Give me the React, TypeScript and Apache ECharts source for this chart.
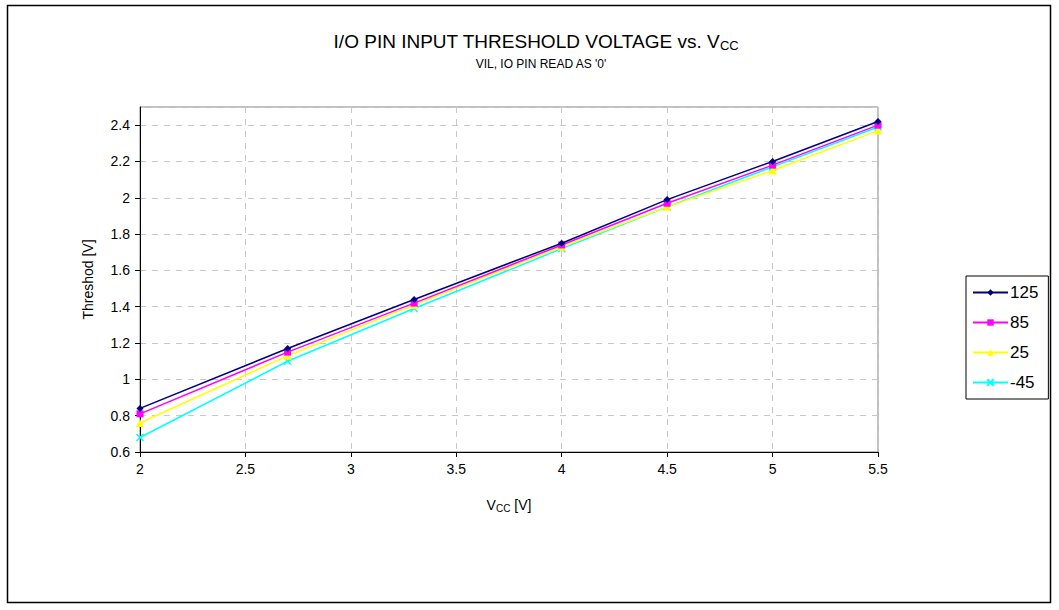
import React, { useEffect, useRef } from "react";
import * as echarts from "echarts";

const vcc = [2, 2.7, 3.3, 4, 4.5, 5, 5.5];
const t125 = [0.84, 1.17, 1.44, 1.75, 1.99, 2.2, 2.42];
const t85 = [0.81, 1.15, 1.42, 1.74, 1.97, 2.18, 2.4];
const t25 = [0.76, 1.13, 1.41, 1.73, 1.95, 2.15, 2.37];
const tm45 = [0.68, 1.1, 1.39, 1.72, 1.95, 2.17, 2.39];
const seriesNames = ["125", "85", "25", "-45"];
const seriesColors = ["#000080", "#FF00FF", "#FFFF00", "#00FFFF"];
const seriesSymbols = ["diamond", "rect", "triangle", "path://M0,0L10,10M10,0L0,10"];

const FONT = "Liberation Sans, Arial, sans-serif";

export default function App() {
  const ref = useRef<HTMLDivElement>(null);
  useEffect(() => {
    if (!ref.current) return;
    const chart = echarts.init(ref.current, null, { renderer: "svg" });
    const all = [t125, t85, t25, tm45];
    const series = all.map((vals, i) => ({
      name: seriesNames[i],
      type: "line",
      data: vals.map((v, j) => [vcc[j], v]),
      symbol: seriesSymbols[i],
      symbolSize: i === 3 ? 7 : i === 2 ? 8 : 7,
      showSymbol: true,
      lineStyle: { color: seriesColors[i], width: 1.5 },
      itemStyle: { color: seriesColors[i], borderColor: seriesColors[i], borderWidth: i === 3 ? 1.5 : 0 },
      z: 10 - i,
    }));
    chart.setOption({
      animation: false,
      backgroundColor: "#fff",
      textStyle: { fontFamily: FONT, color: "#000" },
      title: [
        {
          text: "{a|I/O PIN INPUT THRESHOLD VOLTAGE vs. V}{s|CC}",
          left: 531,
          textAlign: "center",
          top: 25,
          textStyle: {
            fontWeight: "normal",
            rich: {
              a: { fontFamily: FONT, fontSize: 19, fontWeight: "normal", color: "#000", lineHeight: 22 },
              s: { fontFamily: FONT, fontSize: 13, fontWeight: "normal", color: "#000", lineHeight: 12, verticalAlign: "bottom" },
            },
          },
        },
        {
          text: "VIL, IO PIN READ AS '0'",
          left: 536,
          textAlign: "center",
          top: 53,
          textStyle: { fontFamily: FONT, fontSize: 12, color: "#000", fontWeight: "normal" },
        },
      ],
      legend: {
        orient: "vertical",
        left: 966,
        top: 276,
        width: 80,
        padding: [8, 10, 8, 6],
        itemWidth: 35,
        itemHeight: 8,
        itemGap: 13,
        borderColor: "#000",
        borderWidth: 1,
        textStyle: { fontFamily: FONT, fontSize: 17, color: "#000", padding: [0, 0, 0, -3] },
        data: seriesNames,
      },
      grid: { left: 140, right: 181, top: 107, bottom: 158, show: true, borderColor: "#808080", borderWidth: 1 },
      xAxis: {
        type: "value",
        min: 2,
        max: 5.5,
        interval: 0.5,
        name: "{a|V}{s|CC}{a| [V]}",
        nameLocation: "middle",
        nameGap: 45,
        nameTextStyle: {
          rich: {
            a: { fontFamily: FONT, fontSize: 14, color: "#000", lineHeight: 16 },
            s: { fontFamily: FONT, fontSize: 10, color: "#000", lineHeight: 9, verticalAlign: "bottom" },
          },
        },
        axisLine: { lineStyle: { color: "#000", width: 1 } },
        axisTick: { show: true, length: 5, lineStyle: { color: "#000" } },
        axisLabel: { fontFamily: FONT, fontSize: 14, color: "#000", margin: 10 },
        splitLine: { show: true, lineStyle: { color: "#c8c8c8", type: [6, 6] } },
      },
      yAxis: {
        type: "value",
        min: 0.6,
        max: 2.5,
        interval: 0.2,
        name: "Threshod [V]",
        nameLocation: "middle",
        nameGap: 45,
        nameTextStyle: { fontFamily: FONT, fontSize: 14, color: "#000" },
        axisLine: { show: true, lineStyle: { color: "#000", width: 1 } },
        axisTick: { show: true, length: 5, lineStyle: { color: "#000" } },
        axisLabel: {
          fontFamily: FONT,
          fontSize: 14,
          color: "#000",
          margin: 10,
          showMaxLabel: false,
          formatter: (v: number) => String(Math.round(v * 10) / 10),
        },
        splitLine: { show: true, lineStyle: { color: "#c8c8c8", type: [6, 6] } },
      },
      graphic: [
        {
          type: "rect",
          shape: { x: 7.5, y: 5.5, width: 1043, height: 597 },
          style: { fill: "none", stroke: "#000", lineWidth: 1.5 },
          silent: true,
        },
      ],
      series,
    });
    return () => chart.dispose();
  }, []);
  return (
    <div
      ref={ref}
      style={{ position: "fixed", left: 0, top: 0, width: 1059, height: 610 }}
    />
  );
}
